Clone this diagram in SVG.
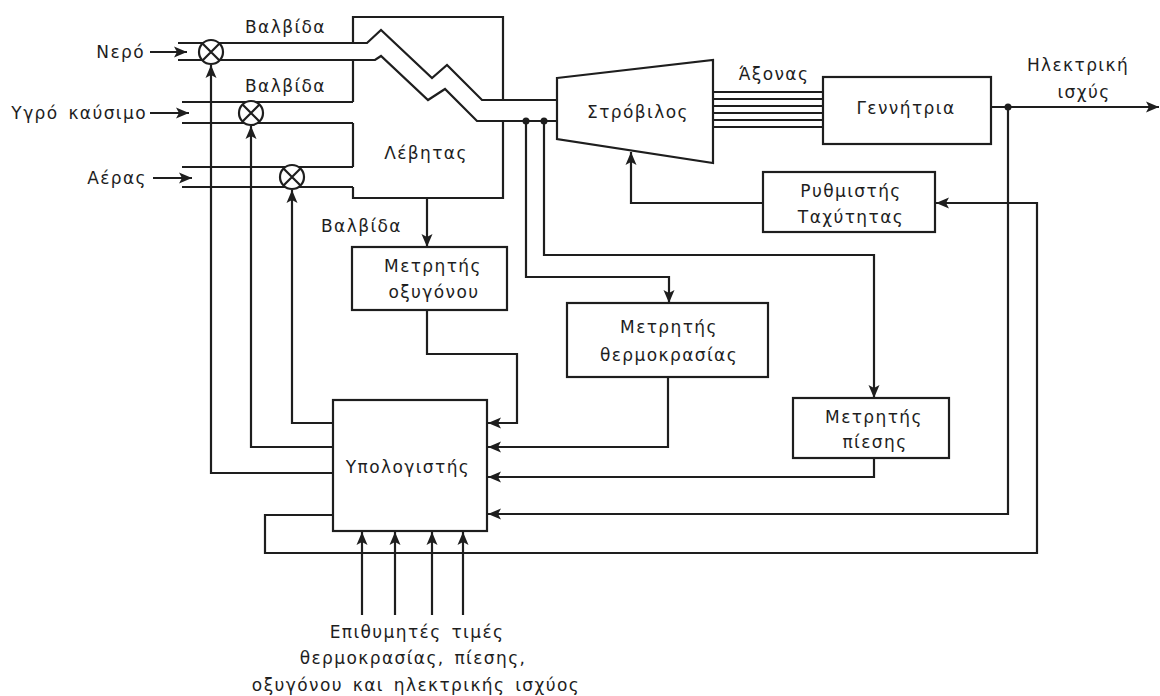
<svg xmlns="http://www.w3.org/2000/svg" width="1160" height="696" viewBox="0 0 1160 696">
<style>
.ln{fill:none;stroke:#1e1e1e;stroke-width:2.2}
.bx{fill:#fff;stroke:#1e1e1e;stroke-width:2.2}
.vl{fill:#fff;stroke:#1e1e1e;stroke-width:2.2}
.t{font-family:"DejaVu Sans","Liberation Sans",sans-serif;font-size:17px;fill:#1e1e1e;letter-spacing:1.4px;word-spacing:3px}
.c{text-anchor:middle}
.e{text-anchor:end}
.ar{marker-end:url(#a)}
.dot{fill:#1e1e1e}
</style>
<defs>
<marker id="a" markerWidth="14" markerHeight="12" refX="13" refY="6" orient="auto" markerUnits="userSpaceOnUse"><path d="M0,0.5 L13,6 L0,11.5 L3,6 z" fill="#1e1e1e"/></marker>
</defs>
<rect width="1160" height="696" fill="#fff"/>

<g id="connectors">
  <!-- input arrows -->
  <path class="ln ar" d="M150,52 H187"/>
  <path class="ln ar" d="M150,113 H189"/>
  <path class="ln ar" d="M153,178 H192"/>
  <!-- water / steam pipe -->
  <path class="ln" d="M178,43 H367 L381,30 L432,78 L447,65 L482,100 H557"/>
  <path class="ln" d="M178,60 H375 L381,56 L428,100 L445,89 L477,121 H557"/>
  <!-- fuel pipe -->
  <path class="ln" d="M182,102 H353 M182,123 H353"/>
  <!-- air pipe -->
  <path class="ln" d="M182,167 H353 M182,187 H353"/>
  <!-- shaft -->
  <path class="ln" d="M713,92 H823 M713,99 H823 M713,106 H823 M713,113 H823 M713,120 H823 M713,127 H823" style="stroke-width:1.8"/>
  <!-- electrical output -->
  <path class="ln ar" d="M991,107 H1159"/>
  <circle class="dot" cx="1008" cy="107" r="3.5"/>
  <!-- steam taps -->
  <circle class="dot" cx="526" cy="121" r="3.5"/>
  <circle class="dot" cx="544" cy="121" r="3.5"/>
  <path class="ln ar" d="M526,121 V277 H669 V303"/>
  <path class="ln ar" d="M544,121 V255 H874 V398"/>
  <!-- boiler to oxygen meter -->
  <path class="ln ar" d="M427,198 V247"/>
  <!-- meters to computer -->
  <path class="ln ar" d="M427,310 V354 H517 V423 H488"/>
  <path class="ln ar" d="M668,377 V447 H488"/>
  <path class="ln ar" d="M874,458 V477 H488"/>
  <path class="ln ar" d="M1008,107 V514 H488"/>
  <!-- computer to speed regulator -->
  <path class="ln ar" d="M333,515 H265 V553 H1037 V203 H936"/>
  <!-- speed regulator to turbine -->
  <path class="ln ar" d="M763,203 H631 V152"/>
  <!-- computer to valves -->
  <path class="ln ar" d="M333,423 H292 V190"/>
  <path class="ln ar" d="M333,447 H251 V126"/>
  <path class="ln ar" d="M333,473 H211 V65"/>
  <!-- set points -->
  <path class="ln ar" d="M362,615 V532"/>
  <path class="ln ar" d="M395,615 V532"/>
  <path class="ln ar" d="M432,615 V532"/>
  <path class="ln ar" d="M463,615 V532"/>
</g>

<g id="valve-water">
  <circle class="vl" cx="211" cy="52" r="12"/>
  <path class="ln" d="M202.5,43.5 L219.5,60.5 M219.5,43.5 L202.5,60.5"/>
</g>
<g id="valve-fuel">
  <circle class="vl" cx="251" cy="113" r="12"/>
  <path class="ln" d="M242.5,104.5 L259.5,121.5 M259.5,104.5 L242.5,121.5"/>
</g>
<g id="valve-air">
  <circle class="vl" cx="292" cy="177" r="12"/>
  <path class="ln" d="M283.5,168.5 L300.5,185.5 M300.5,168.5 L283.5,185.5"/>
</g>

<g id="inputs">
  <text class="t e" x="145" y="58">Νερό</text>
  <text class="t e" x="147" y="119">Υγρό καύσιμο</text>
  <text class="t e" x="147" y="184">Αέρας</text>
  <text class="t" x="245" y="33">Βαλβίδα</text>
  <text class="t" x="245" y="92">Βαλβίδα</text>
</g>

<g id="boiler">
  <path class="ln" d="M353,43 V17 H503 V100 M503,121 V198 H353 V187 M353,167 V123 M353,102 V60"/>
  <text class="t c" x="426" y="159">Λέβητας</text>
</g>

<g id="turbine">
  <polygon class="ln" points="557,78 713,60 713,163 557,139"/>
  <text class="t c" x="638" y="118">Στρόβιλος</text>
</g>

<g id="shaft-label">
  <text class="t c" x="774" y="80">Άξονας</text>
</g>

<g id="generator">
  <rect class="bx" x="823" y="77" width="168" height="67"/>
  <text class="t c" x="906" y="114">Γεννήτρια</text>
</g>

<g id="power-label">
  <text class="t c" x="1078" y="71">Ηλεκτρική</text>
  <text class="t c" x="1084" y="98">ισχύς</text>
</g>

<g id="speed-regulator">
  <rect class="bx" x="763" y="172" width="172" height="60"/>
  <text class="t c" x="851" y="197">Ρυθμιστής</text>
  <text class="t c" x="851" y="223">Ταχύτητας</text>
</g>

<g id="oxygen-meter">
  <text class="t" x="321" y="232">Βαλβίδα</text>
  <rect class="bx" x="352" y="247" width="155" height="63"/>
  <text class="t c" x="433" y="272">Μετρητής</text>
  <text class="t c" x="434" y="298">οξυγόνου</text>
</g>

<g id="temperature-meter">
  <rect class="bx" x="567" y="303" width="201" height="74"/>
  <text class="t c" x="669" y="333">Μετρητής</text>
  <text class="t c" x="669" y="361">θερμοκρασίας</text>
</g>

<g id="pressure-meter">
  <rect class="bx" x="793" y="398" width="156" height="60"/>
  <text class="t c" x="874" y="423">Μετρητής</text>
  <text class="t c" x="875" y="448">πίεσης</text>
</g>

<g id="computer">
  <rect class="bx" x="333" y="400" width="154" height="131"/>
  <text class="t c" x="408" y="473">Υπολογιστής</text>
</g>

<g id="setpoints">
  <text class="t c" x="417" y="638">Επιθυμητές τιμές</text>
  <text class="t c" x="413" y="664">θερμοκρασίας, πίεσης,</text>
  <text class="t c" x="416" y="691">οξυγόνου και ηλεκτρικής ισχύος</text>
</g>
</svg>
